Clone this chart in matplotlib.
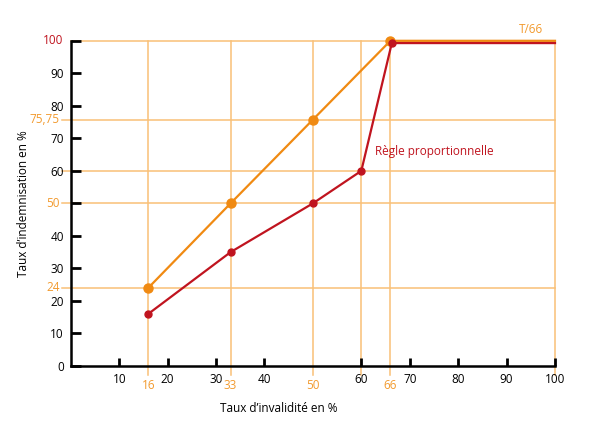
import matplotlib
matplotlib.use("Agg")
import matplotlib.pyplot as plt

plt.rcParams.update({
    "font.family": ["Open Sans", "DejaVu Sans"],
    "font.size": 8,
})

# data
x_orange = [16, 33, 50, 66, 100]
y_orange = [24, 50, 75.75, 100, 100]
x_red = [16, 33, 50, 60, 66.3, 100]
y_red = [16, 35, 50, 60, 99.3, 99.3]

grid_x = [16, 33, 50, 60, 66, 100]
grid_y = [24, 50, 60, 75.75, 100]

black_xticks = [10, 20, 30, 40, 60, 70, 80, 90, 100]
orange_xticks = [16, 33, 50, 66]
black_yticks = [0, 10, 20, 30, 40, 60, 70, 80, 90]
orange_yticks = [24, 50, 75.75]

ORANGE = "#F08A12"
ORANGE_TXT = "#F29A2E"
GRID = "#F9C077"
RED = "#C0141F"

fig = plt.figure(figsize=(6, 4.25), dpi=100)
ax = fig.add_axes([0.118, 0.139, 0.807, 0.765])
ax.set_xlim(0, 100)
ax.set_ylim(0, 100)

for gx in grid_x:
    ax.plot([gx, gx], [-2.8, 100], color=GRID, lw=1.1, zorder=1, clip_on=False)
for gy in grid_y:
    x0 = 0 if gy == 100 else -1.8
    ax.plot([x0, 100], [gy, gy], color=GRID, lw=1.1, zorder=1, clip_on=False)

ax.plot(x_orange, y_orange, color=ORANGE, lw=1.6, zorder=3, clip_on=False)
ax.plot(x_orange[:4], y_orange[:4], "o", color=ORANGE, ms=6.5, zorder=4, clip_on=False)
ax.plot(x_red, y_red, color=RED, lw=1.6, zorder=3, clip_on=False)
ax.plot(x_red[:5], y_red[:5], "o", color=RED, ms=5, zorder=4, clip_on=False)

for s in ["top", "right"]:
    ax.spines[s].set_visible(False)
for s in ["left", "bottom"]:
    ax.spines[s].set_linewidth(1.8)
    ax.spines[s].set_zorder(5)

ax.set_xticks(black_xticks)
ax.set_xticklabels([str(v) for v in black_xticks])
ax.set_yticks(black_yticks + [50, 100])
ax.set_yticklabels([str(v) for v in black_yticks] + ["", ""])
ax.tick_params(direction="in", width=2, labelsize=8.5)
ax.tick_params(axis="x", length=6, pad=5)
ax.tick_params(axis="y", length=7.5, pad=5)

for v in orange_xticks:
    ax.text(v, -4.0, str(v), color=ORANGE_TXT, fontsize=8.5, ha="center", va="top")
for v in orange_yticks:
    ax.text(-2.3, v, f"{v:g}".replace(".", ","), color=ORANGE_TXT, fontsize=8.5,
            ha="right", va="center")
ax.text(-1.5, 100, "100", color=RED, fontsize=8.5, ha="right", va="center")

ax.text(95, 101.5, "T/66", color=ORANGE_TXT, fontsize=8.5, ha="center", va="bottom")
ax.text(62.8, 64, "Règle proportionnelle", color=RED, fontsize=8.5, ha="left", va="bottom")

ax.set_xlabel("Taux d\u2019invalidité en %", fontsize=8.5)
ax.xaxis.set_label_coords(0.43, -0.11)
ax.set_ylabel("Taux d\u2019indemnisation en %", fontsize=8.5)
ax.yaxis.set_label_coords(-0.085, 0.5)

fig.savefig("out.png", dpi=100)
